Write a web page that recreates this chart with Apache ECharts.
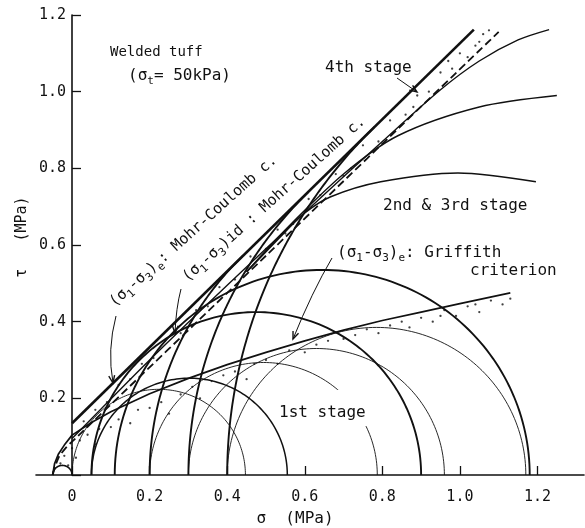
<!DOCTYPE html>
<html>
<head>
<meta charset="utf-8">
<script src="https://cdn.jsdelivr.net/npm/echarts@6/dist/echarts.min.js"></script>
<style>
  html, body { margin: 0; padding: 0; background: #fff; }
  #chart { width: 585px; height: 528px; }
</style>
</head>
<body>
<div id="chart"></div>
<script>
// axis ticks
const xTicks = [0, 0.2, 0.4, 0.6, 0.8, 1.0, 1.2];

// Mohr circles as [sigma3, sigma1] (MPa)
const tensionCircle = [[-0.05, 0]];
const failureCircles = [[0.05, 0.90], [0.11, 1.18]];
const midCircles = [[0.05, 0.555]];
const elasticCircles = [[0, 0.447], [0.2, 0.787], [0.3, 0.96], [0.4, 1.17]];
// big failure circles, only drawn up to the envelope: [sigma3, sigma1, stop at sigma]
const failureArcs = [[0.2, 1.80, 0.44], [0.3, 2.37, 0.61], [0.4, 2.95, 0.78]];

// envelopes [sigma, tau]
const mcLine = [[0, 0.135], [1.036, 1.162]];
const idLine = [[-0.05, 0], [-0.035, 0.045], [-0.015, 0.072], [0, 0.087], [0.5, 0.572], [1.10, 1.156]];
const stage4Curve = [[0, 0.095], [0.2, 0.30], [0.4, 0.495], [0.6, 0.685], [0.8, 0.87], [0.95, 1.005], [1.05, 1.08], [1.15, 1.135], [1.23, 1.162]];
const stage3Curve = [[0.45, 0.53], [0.55, 0.64], [0.7, 0.785], [0.84, 0.885], [1.05, 0.96], [1.25, 0.99]];
const stage2Curve = [[0.45, 0.53], [0.55, 0.635], [0.6, 0.684], [0.667, 0.726], [0.796, 0.765], [0.995, 0.788], [1.196, 0.765]];
const griffith = [[-0.05, 0], [-0.045, 0.03], [-0.035, 0.055], [-0.02, 0.078], [0, 0.104], [0.05, 0.137], [0.1, 0.165],
  [0.2, 0.212], [0.3, 0.252], [0.4, 0.288], [0.5, 0.32], [0.6, 0.35], [0.7, 0.378], [0.8, 0.403], [0.9, 0.425],
  [1.0, 0.447], [1.13, 0.475]];

// stippling
const upperDots = [[0.03, 0.14], [0.06, 0.17], [0.09, 0.19], [0.12, 0.235], [0.15, 0.25], [0.18, 0.29], [0.21, 0.305],
  [0.24, 0.35], [0.28, 0.37], [0.32, 0.43], [0.35, 0.44], [0.38, 0.49], [0.42, 0.51], [0.46, 0.57], [0.5, 0.59],
  [0.53, 0.64], [0.55, 0.63], [0.57, 0.655], [0.61, 0.72], [0.64, 0.73], [0.68, 0.785], [0.7, 0.78], [0.72, 0.8],
  [0.75, 0.86], [0.79, 0.87], [0.82, 0.925], [0.86, 0.94], [0.88, 0.96], [0.89, 0.99], [0.92, 1.0], [0.95, 1.05],
  [0.97, 1.08], [0.98, 1.06], [1.0, 1.1], [1.02, 1.09], [1.04, 1.12], [1.05, 1.13], [1.06, 1.15], [1.075, 1.16]];
const lowerDots = [[-0.03, 0.03], [-0.02, 0.05], [-0.01, 0.025], [0, 0.07], [0.01, 0.045], [0.02, 0.09], [0.04, 0.105],
  [0.06, 0.08], [0.07, 0.12], [0.1, 0.125], [0.12, 0.145], [0.15, 0.135], [0.17, 0.17], [0.2, 0.175], [0.23, 0.19],
  [0.25, 0.16], [0.28, 0.21], [0.31, 0.23], [0.33, 0.2], [0.36, 0.245], [0.39, 0.26], [0.42, 0.27], [0.45, 0.25],
  [0.47, 0.29], [0.5, 0.3], [0.53, 0.29], [0.56, 0.325], [0.6, 0.32], [0.63, 0.34], [0.66, 0.35], [0.7, 0.355],
  [0.73, 0.365], [0.76, 0.38], [0.79, 0.37], [0.82, 0.39], [0.85, 0.4], [0.87, 0.385], [0.9, 0.41], [0.93, 0.4],
  [0.95, 0.415], [0.96, 0.43], [0.99, 0.415], [1.02, 0.44], [1.04, 0.445], [1.05, 0.425], [1.08, 0.455], [1.11, 0.445], [1.13, 0.46]];

const mono = '"DejaVu Sans Mono", "Liberation Mono", monospace';
const ink = '#111';

// draws the upper half of each circle (or part of it) through the axis scales
function circleSeries(list, width) {
  return {
    type: 'custom',
    data: list.map(d => [d[0], d[1]]),
    renderItem: function (params, api) {
      const d = list[params.dataIndex];
      const c = (d[0] + d[1]) / 2, r = (d[1] - d[0]) / 2;
      const tEnd = d.length > 2 ? Math.acos((d[2] - c) / r) : 0;
      const pts = [];
      const n = 120;
      for (let k = 0; k <= n; k++) {
        const t = Math.PI - (Math.PI - tEnd) * k / n;
        pts.push(api.coord([c + r * Math.cos(t), r * Math.sin(t)]));
      }
      return {type: 'polyline', shape: {points: pts}, style: {stroke: ink, lineWidth: width, fill: null}};
    },
    z: 3
  };
}

function lineSeries(data, width, extra, smooth) {
  return {
    type: 'line',
    data: data,
    symbol: 'none',
    smooth: smooth === undefined ? 0.3 : smooth,
    lineStyle: Object.assign({color: ink, width: width}, extra || {}),
    z: 4
  };
}

function arrow(p0, c, p1) {
  const ang = Math.atan2(p1[1] - c[1], p1[0] - c[0]);
  const L = 8, w = 0.38;
  const a = [p1[0] - L * Math.cos(ang - w), p1[1] - L * Math.sin(ang - w)];
  const b = [p1[0] - L * Math.cos(ang + w), p1[1] - L * Math.sin(ang + w)];
  return [
    {type: 'bezierCurve', z: 100, shape: {x1: p0[0], y1: p0[1], x2: p1[0], y2: p1[1], cpx1: c[0], cpy1: c[1]},
      style: {stroke: ink, lineWidth: 1, fill: null}},
    {type: 'polyline', z: 100, shape: {points: [a, p1, b]}, style: {stroke: ink, lineWidth: 1.4, fill: null}}
  ];
}

const rich = {s: {fontSize: 11, fontFamily: mono, verticalAlign: 'bottom', fill: ink}};

function label(text, x, y, size, extra) {
  extra = extra || {};
  return {
    type: 'text', x: x, y: y, z: 100, rotation: extra.rotation || 0,
    style: Object.assign({text: text, fontFamily: mono, fontSize: size, lineHeight: 22, fill: ink,
      align: 'left', verticalAlign: 'middle', rich: rich}, extra.style || {})
  };
}

const chart = echarts.init(document.getElementById('chart'));

const option = {
  animation: false,
  backgroundColor: '#fff',
  grid: [
    {left: 36, top: 15, width: 548, height: 460},
    // second grid only carries the tau axis so it stands at sigma = 0
    {left: 72, top: 15, width: 200, height: 460}
  ],
  xAxis: [{
    type: 'value', min: -0.093, max: 1.32,
    axisLine: {lineStyle: {color: ink, width: 1.6}},
    axisTick: {inside: true, length: 9, customValues: xTicks, lineStyle: {color: ink, width: 1.3}},
    axisLabel: {customValues: xTicks, margin: 15, color: ink, fontFamily: mono, fontSize: 15,
      formatter: v => (Math.abs(v) < 1e-9 ? '0' : v.toFixed(1))},
    splitLine: {show: false}
  }, {
    type: 'value', gridIndex: 1, min: 0, max: 1, show: false
  }],
  yAxis: [{
    type: 'value', min: 0, max: 1.2, show: false
  }, {
    type: 'value', gridIndex: 1, min: 0, max: 1.2, interval: 0.2,
    axisLine: {show: true, lineStyle: {color: ink, width: 1.6}},
    axisTick: {show: true, inside: true, length: 9, lineStyle: {color: ink, width: 1.3}},
    axisLabel: {margin: 6, color: ink, fontFamily: mono, fontSize: 15,
      formatter: v => (v < 1e-9 ? '' : v.toFixed(1))},
    splitLine: {show: false}
  }],
  series: [
    circleSeries(tensionCircle, 1.6),
    circleSeries(failureCircles, 1.9),
    circleSeries(midCircles, 1.5),
    circleSeries(elasticCircles, 0.9),
    circleSeries(failureArcs, 1.9),
    lineSeries(mcLine, 2.6),
    lineSeries(idLine, 1.8, {type: [8, 4]}),
    lineSeries(stage4Curve, 1.4),
    lineSeries(stage3Curve, 1.4),
    lineSeries(stage2Curve, 1.6),
    lineSeries(griffith, 1.7, null, false),
    {type: 'scatter', data: upperDots, symbolSize: 2.3, itemStyle: {color: ink}, z: 5},
    {type: 'scatter', data: lowerDots, symbolSize: 2.3, itemStyle: {color: ink}, z: 5}
  ],
  graphic: [
    label('Welded tuff', 110, 52, 14),
    label('(σ{s|t}= 50kPa)', 128, 76, 16),
    label('4th stage', 325, 68, 16),
    label('2nd & 3rd stage', 383, 206, 16),
    label('(σ{s|1}-σ{s|3}){s|e}: Griffith', 337, 253, 16),
    label('criterion', 470, 271, 16),
    label('1st stage', 276, 408, 16, {style: {backgroundColor: '#fff', padding: [12, 3, 2, 3]}}),
    label('(σ{s|1}-σ{s|3}){s|e}: Mohr-Coulomb c.', 112, 304, 15, {rotation: 0.73}),
    label('(σ{s|1}-σ{s|3})id : Mohr-Coulomb c.', 185, 279, 15, {rotation: 0.73}),
    {type: 'text', x: 22, y: 237, rotation: Math.PI / 2, z: 100,
      style: {text: 'τ   (MPa)', fontFamily: mono, fontSize: 15, fill: ink, align: 'center', verticalAlign: 'middle'}},
    {type: 'text', x: 295, y: 519, z: 100,
      style: {text: 'σ  (MPa)', fontFamily: mono, fontSize: 16, fill: ink, align: 'center', verticalAlign: 'middle'}}
  ]
    .concat(arrow([116, 316], [107, 350], [113, 383]))
    .concat(arrow([181, 289], [176, 308], [175, 333]))
    .concat(arrow([397, 78], [407, 85], [417, 92]))
    .concat(arrow([332, 258], [312, 292], [293, 339]))
};

chart.setOption(option);
</script>
</body>
</html>
